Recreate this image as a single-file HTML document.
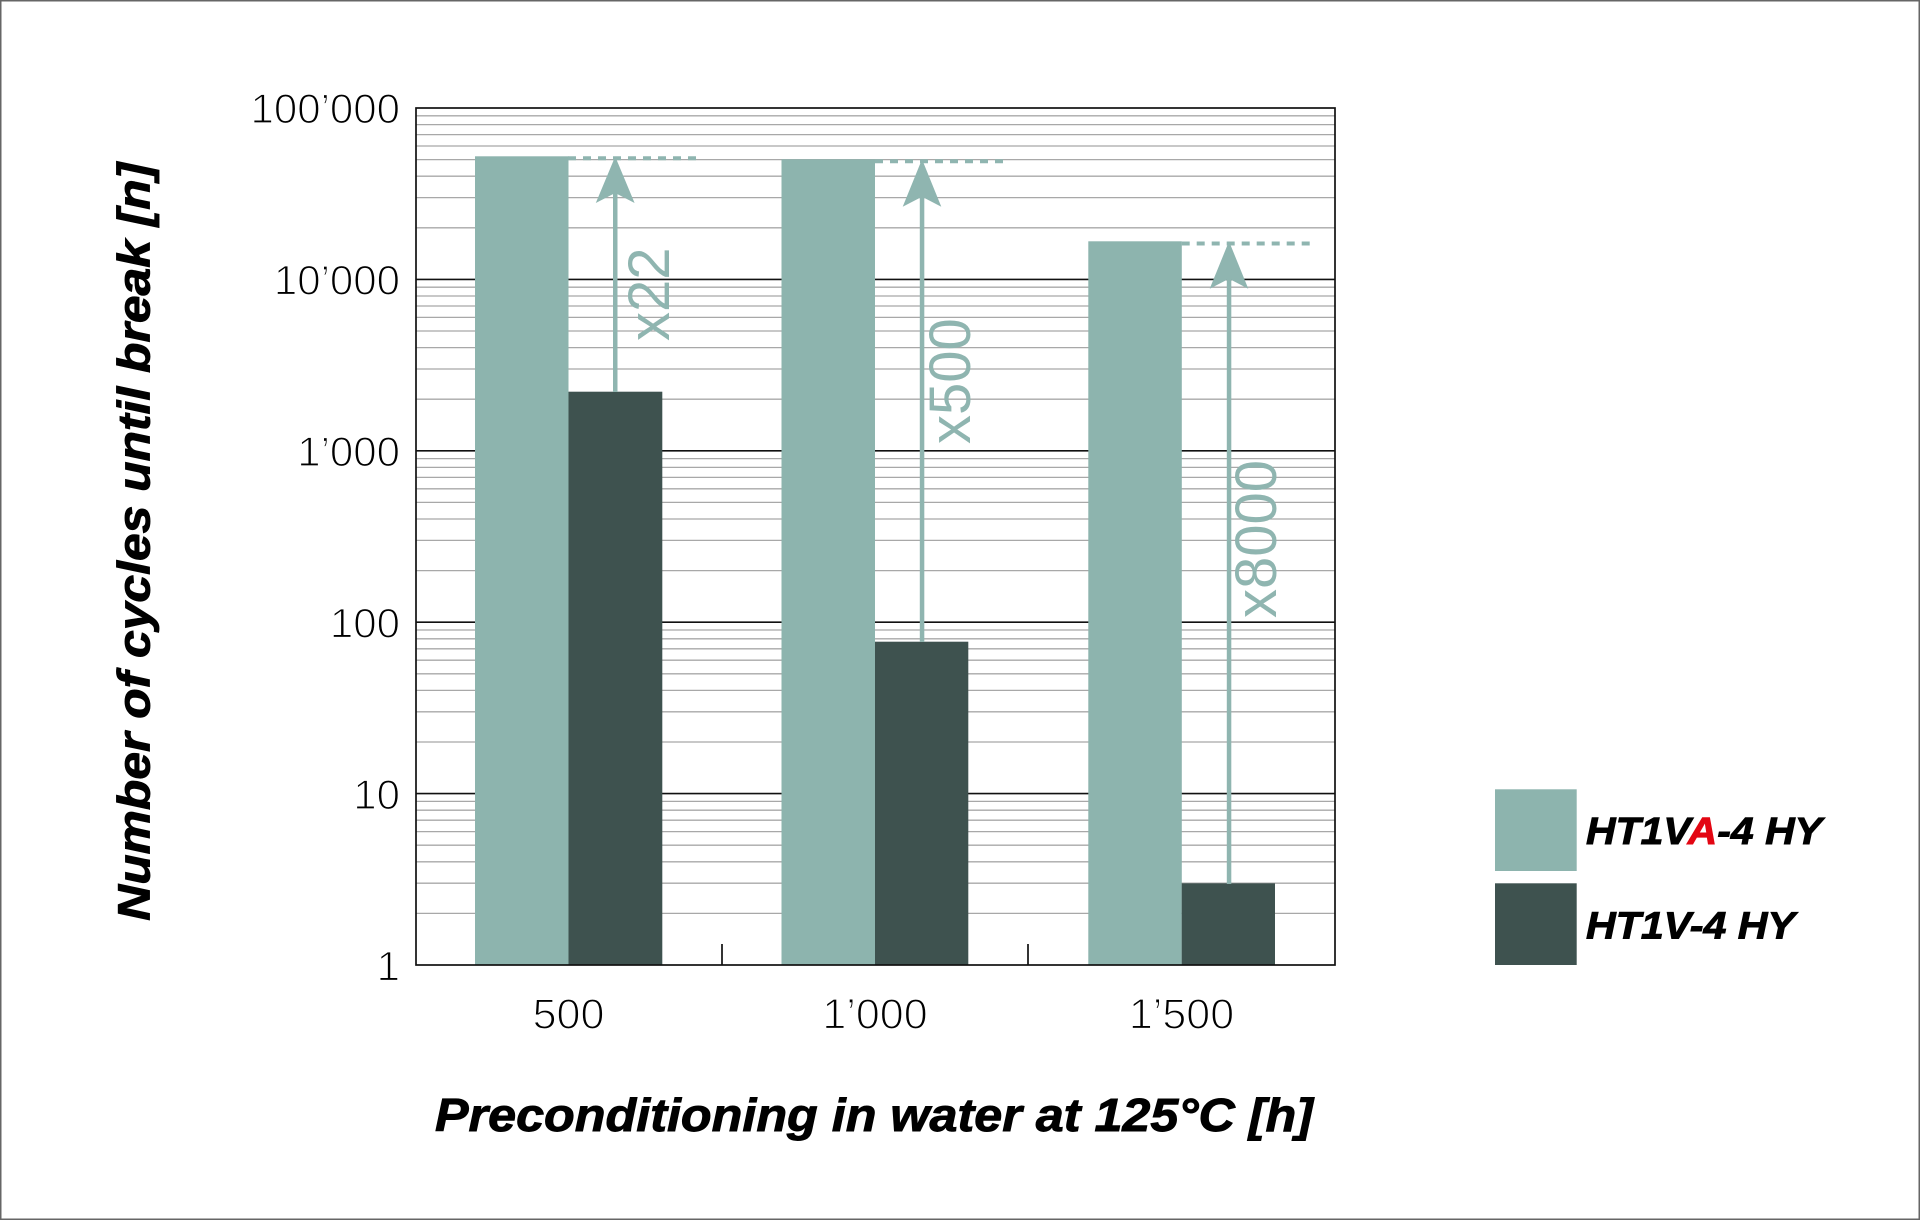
<!DOCTYPE html>
<html>
<head>
<meta charset="utf-8">
<style>
  html, body { margin:0; padding:0; background:#fff; }
  svg { display:block; }
  .tick { font-family:"Liberation Sans", sans-serif; font-size:42px; fill:#000; stroke:#fff; stroke-width:1.3px; }
  .xtick { font-family:"Liberation Sans", sans-serif; font-size:43px; fill:#000; stroke:#fff; stroke-width:1.3px; }
  .title { font-family:"Liberation Sans", sans-serif; font-weight:bold; font-style:italic; fill:#000; stroke:#000; stroke-width:0.9px; }
  .fac { font-family:"Liberation Sans", sans-serif; font-size:58px; fill:#8fb5b0; }
</style>
</head>
<body>
<svg width="1920" height="1220" viewBox="0 0 1920 1220" xmlns="http://www.w3.org/2000/svg">
  <rect x="0" y="0" width="1920" height="1220" fill="#fff"/>
  <rect x="0.75" y="0.75" width="1918.5" height="1218.5" fill="none" stroke="#666" stroke-width="1.5"/>

  <!-- minor gridlines -->
  <g stroke="#a8a8a8" stroke-width="1.3">
    <line x1="416" x2="1335" y1="913.4" y2="913.4"/><line x1="416" x2="1335" y1="883.2" y2="883.2"/><line x1="416" x2="1335" y1="861.8" y2="861.8"/><line x1="416" x2="1335" y1="845.2" y2="845.2"/><line x1="416" x2="1335" y1="831.6" y2="831.6"/><line x1="416" x2="1335" y1="820.2" y2="820.2"/><line x1="416" x2="1335" y1="810.2" y2="810.2"/><line x1="416" x2="1335" y1="801.4" y2="801.4"/>
    <line x1="416" x2="1335" y1="742.0" y2="742.0"/><line x1="416" x2="1335" y1="711.8" y2="711.8"/><line x1="416" x2="1335" y1="690.4" y2="690.4"/><line x1="416" x2="1335" y1="673.8" y2="673.8"/><line x1="416" x2="1335" y1="660.2" y2="660.2"/><line x1="416" x2="1335" y1="648.8" y2="648.8"/><line x1="416" x2="1335" y1="638.8" y2="638.8"/><line x1="416" x2="1335" y1="630.0" y2="630.0"/>
    <line x1="416" x2="1335" y1="570.6" y2="570.6"/><line x1="416" x2="1335" y1="540.4" y2="540.4"/><line x1="416" x2="1335" y1="519.0" y2="519.0"/><line x1="416" x2="1335" y1="502.4" y2="502.4"/><line x1="416" x2="1335" y1="488.8" y2="488.8"/><line x1="416" x2="1335" y1="477.4" y2="477.4"/><line x1="416" x2="1335" y1="467.4" y2="467.4"/><line x1="416" x2="1335" y1="458.6" y2="458.6"/>
    <line x1="416" x2="1335" y1="399.2" y2="399.2"/><line x1="416" x2="1335" y1="369.0" y2="369.0"/><line x1="416" x2="1335" y1="347.6" y2="347.6"/><line x1="416" x2="1335" y1="331.0" y2="331.0"/><line x1="416" x2="1335" y1="317.4" y2="317.4"/><line x1="416" x2="1335" y1="306.0" y2="306.0"/><line x1="416" x2="1335" y1="296.0" y2="296.0"/><line x1="416" x2="1335" y1="287.2" y2="287.2"/>
    <line x1="416" x2="1335" y1="227.8" y2="227.8"/><line x1="416" x2="1335" y1="197.6" y2="197.6"/><line x1="416" x2="1335" y1="176.2" y2="176.2"/><line x1="416" x2="1335" y1="159.6" y2="159.6"/><line x1="416" x2="1335" y1="146.0" y2="146.0"/><line x1="416" x2="1335" y1="134.6" y2="134.6"/><line x1="416" x2="1335" y1="124.6" y2="124.6"/><line x1="416" x2="1335" y1="115.8" y2="115.8"/>
  </g>
  <!-- major gridlines -->
  <g stroke="#111" stroke-width="1.6">
    <line x1="416" x2="1335" y1="279.4" y2="279.4"/>
    <line x1="416" x2="1335" y1="450.8" y2="450.8"/>
    <line x1="416" x2="1335" y1="622.2" y2="622.2"/>
    <line x1="416" x2="1335" y1="793.6" y2="793.6"/>
  </g>

  <!-- bars -->
  <g fill="#8db4ae">
    <rect x="475" y="156.3" width="93.5" height="808.7"/>
    <rect x="781.5" y="159.3" width="93.5" height="805.7"/>
    <rect x="1088.3" y="241.3" width="93.5" height="723.7"/>
  </g>
  <g fill="#3e524f">
    <rect x="568.5" y="391.7" width="93.8" height="573.3"/>
    <rect x="875" y="641.7" width="93.3" height="323.3"/>
    <rect x="1181.7" y="883.3" width="93.3" height="81.7"/>
  </g>

  <!-- frame -->
  <g stroke="#111" stroke-width="1.7" fill="none">
    <rect x="416" y="108" width="919" height="857"/>
    <line x1="722" x2="722" y1="944" y2="965"/>
    <line x1="1028" x2="1028" y1="944" y2="965"/>
  </g>

  <!-- dashed reference lines -->
  <g stroke="#8fb5b0" stroke-width="4" stroke-dasharray="8 7">
    <line x1="568" x2="698" y1="158.3" y2="158.3"/>
    <line x1="875" x2="1004" y1="161.3" y2="161.3"/>
    <line x1="1181.7" x2="1310" y1="243.5" y2="243.5"/>
  </g>

  <!-- arrows -->
  <g fill="#8fb5b0" stroke="none">
    <rect x="613" y="190" width="4.5" height="202"/>
    <path d="M615.2,156.5 L634.6,203 L615.2,193 L595.8,203 Z"/>
    <rect x="919.8" y="193" width="4.5" height="449"/>
    <path d="M922,159.3 L941.3,206.7 L922,196.7 L902.7,206.7 Z"/>
    <rect x="1226.8" y="275" width="4.5" height="609"/>
    <path d="M1229,241.3 L1248.3,288.7 L1229,278.7 L1209.7,288.7 Z"/>
  </g>

  <!-- factor labels -->
  <text class="fac" transform="translate(669,341) rotate(-90)">x22</text>
  <text class="fac" transform="translate(970,444) rotate(-90)">x500</text>
  <text class="fac" transform="translate(1276,618) rotate(-90)">x8000</text>

  <!-- y tick labels -->
  <g class="tick" text-anchor="end">
    <text x="400" y="123">100’000</text>
    <text x="400" y="294.5">10’000</text>
    <text x="400" y="466">1’000</text>
    <text x="400" y="637.5">100</text>
    <text x="400" y="809">10</text>
    <text x="400" y="980.5">1</text>
  </g>

  <!-- x tick labels -->
  <g class="xtick" text-anchor="middle">
    <text x="568.5" y="1028.5">500</text>
    <text x="875" y="1028.5">1’000</text>
    <text x="1181.5" y="1028.5">1’500</text>
  </g>

  <!-- axis titles -->
  <text class="title" font-size="45" transform="translate(149.5,920.7) rotate(-90)" textLength="758" lengthAdjust="spacingAndGlyphs">Number of cycles until break [n]</text>
  <text class="title" font-size="46" x="435" y="1131" textLength="878" lengthAdjust="spacingAndGlyphs">Preconditioning in water at 125°C [h]</text>

  <!-- legend -->
  <rect x="1495" y="789.3" width="81.7" height="81.7" fill="#8db4ae"/>
  <rect x="1495" y="883.3" width="81.7" height="81.7" fill="#3e524f"/>
  <text class="title" font-size="38" x="1586" y="844" textLength="236" lengthAdjust="spacingAndGlyphs">HT1V<tspan fill="#e30613" stroke="#e30613">A</tspan>-4 HY</text>
  <text class="title" font-size="38" x="1586" y="938.3" textLength="209" lengthAdjust="spacingAndGlyphs">HT1V-4 HY</text>
</svg>
</body>
</html>
